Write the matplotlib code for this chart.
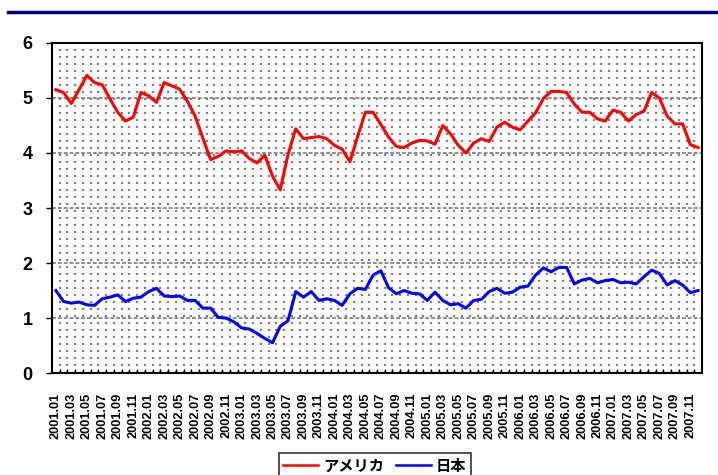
import numpy as np
import matplotlib.pyplot as plt
from matplotlib.lines import Line2D

plt.rcParams['font.family'] = ['Liberation Sans', 'Noto Sans CJK JP', 'DejaVu Sans']

months = [f'{y}.{m:02d}' for y in range(2001, 2008) for m in range(1, 13)]

usa = [5.15, 5.10, 4.90, 5.15, 5.41, 5.28, 5.24, 4.98, 4.74, 4.58, 4.65, 5.10,
       5.04, 4.92, 5.28, 5.22, 5.16, 4.94, 4.67, 4.27, 3.88, 3.94, 4.04, 4.02,
       4.04, 3.90, 3.82, 3.96, 3.58, 3.33, 3.97, 4.44, 4.26, 4.28, 4.30, 4.26,
       4.14, 4.07, 3.84, 4.30, 4.74, 4.74, 4.52, 4.29, 4.12, 4.10, 4.18, 4.23,
       4.22, 4.16, 4.50, 4.35, 4.14, 4.00, 4.18, 4.26, 4.21, 4.47, 4.56, 4.47,
       4.42, 4.58, 4.73, 4.99, 5.12, 5.12, 5.10, 4.89, 4.74, 4.74, 4.62, 4.58,
       4.78, 4.74, 4.58, 4.70, 4.76, 5.10, 5.00, 4.67, 4.53, 4.53, 4.15, 4.10]

japan = [1.50, 1.30, 1.27, 1.29, 1.24, 1.23, 1.35, 1.38, 1.42, 1.30, 1.36, 1.38,
         1.48, 1.54, 1.40, 1.39, 1.40, 1.32, 1.32, 1.18, 1.18, 1.01, 1.00, 0.93,
         0.82, 0.80, 0.72, 0.63, 0.55, 0.85, 0.95, 1.48, 1.38, 1.48, 1.32, 1.35,
         1.32, 1.23, 1.44, 1.54, 1.52, 1.78, 1.86, 1.55, 1.44, 1.50, 1.45, 1.44,
         1.32, 1.47, 1.32, 1.24, 1.26, 1.18, 1.32, 1.34, 1.48, 1.54, 1.45, 1.47,
         1.56, 1.58, 1.78, 1.91, 1.84, 1.92, 1.92, 1.62, 1.69, 1.72, 1.64, 1.68,
         1.70, 1.64, 1.65, 1.62, 1.75, 1.87, 1.81, 1.60, 1.68, 1.60, 1.46, 1.50]

fig = plt.figure(figsize=(7.18, 4.75), dpi=100)
ax = fig.add_axes([0.0724, 0.2147, 0.9053, 0.6948])

x = np.arange(len(months))
ax.plot(x, usa, color='#ff0000', lw=2.2, label='アメリカ', zorder=3)
ax.plot(x, japan, color='#0000ff', lw=2.2, label='日本', zorder=3)

ax.set_xlim(-0.5, len(months) - 0.5)
ax.set_ylim(0, 6)
ax.set_yticks(range(0, 7))

ax.set_xticks(x[::2])
ax.set_xticklabels(months[::2], rotation=90)
ax.set_xticks(np.arange(0.5, len(months) - 1, 1), minor=True)

# dotted month grid + dashed integer grid
ax.grid(which='minor', axis='x', color='#808080', lw=1.6, ls=(0, (0.95, 2.2)))
ax.grid(which='major', axis='y', color='#8c8c8c', lw=1.4, ls=(0, (2.0, 1.0)))
ax.set_axisbelow(True)

ax.tick_params(axis='x', which='major', length=0, pad=14, labelsize=9.2)
ax.tick_params(axis='x', which='minor', direction='in', length=3, width=1)
ax.tick_params(axis='y', direction='out', length=4, width=1, pad=10, labelsize=13)
for lbl in ax.get_xticklabels() + ax.get_yticklabels():
    lbl.set_fontweight('bold')

for sp in ax.spines.values():
    sp.set_linewidth(1.5)
    sp.set_color('black')

leg = fig.legend(loc='upper center', bbox_to_anchor=(0.522, 0.0463), ncol=2,
                 frameon=True, fancybox=False, edgecolor='black',
                 handlelength=2.3, handletextpad=0.3, columnspacing=0.8,
                 borderpad=0.3, borderaxespad=0,
                 prop={'family': ['Noto Sans CJK JP', 'DejaVu Sans'], 'weight': 'bold', 'size': 11})
leg.get_frame().set_linewidth(1.2)
for h in leg.get_lines():
    h.set_linewidth(1.8)

# navy rule across the top
fig.add_artist(Line2D([8 / 718, 1.0], [1 - 12 / 475] * 2, color='#000080', lw=2.5,
                      transform=fig.transFigure))

fig.savefig('out.png', dpi=100)
